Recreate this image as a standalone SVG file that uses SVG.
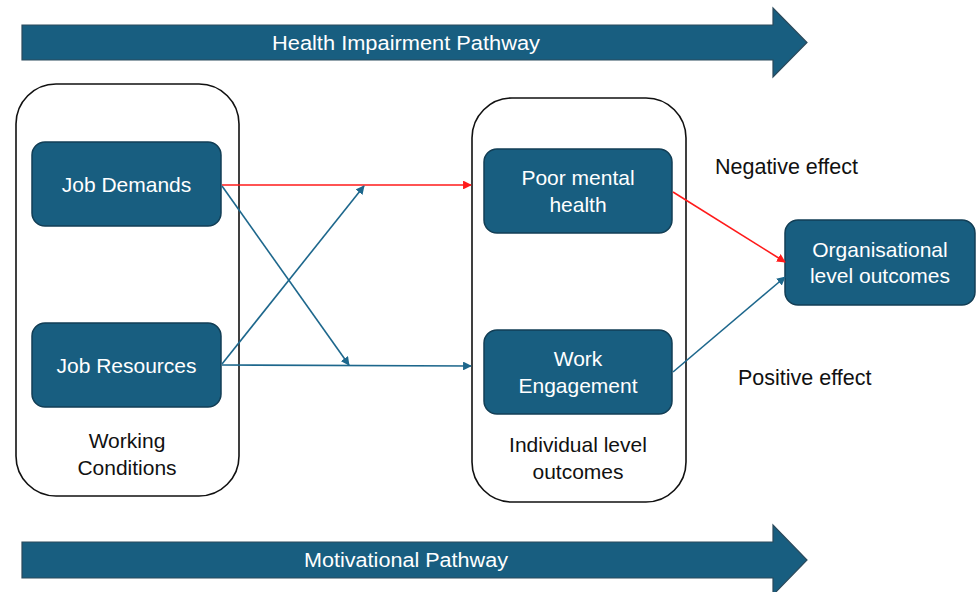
<svg xmlns="http://www.w3.org/2000/svg" width="977" height="592" viewBox="0 0 977 592">
  <style>
    .band { fill: #185e80; stroke: #2b4a5c; stroke-width: 1.2; }
    .band-label { font-family: "Liberation Sans", Arial, sans-serif; font-size: 20px; fill: #ffffff; text-anchor: middle; }
    .group { fill: #ffffff; stroke: #111111; stroke-width: 1.6; }
    .node { fill: #185e80; stroke: #123e55; stroke-width: 1.5; }
    .node-label { font-family: "Liberation Sans", Arial, sans-serif; font-size: 21px; fill: #ffffff; text-anchor: middle; }
    .caption { font-family: "Liberation Sans", Arial, sans-serif; font-size: 21px; fill: #111111; text-anchor: middle; }
    .note { font-family: "Liberation Sans", Arial, sans-serif; font-size: 21.5px; fill: #111111; }
    .link-red { stroke: #ff1a1a; stroke-width: 1.6; fill: none; marker-end: url(#head-red); }
    .link-blue { stroke: #1d678c; stroke-width: 1.6; fill: none; marker-end: url(#head-blue); }
  </style>
  <defs>
    <marker id="head-red" viewBox="0 0 10 10" refX="9" refY="5" markerWidth="5.5" markerHeight="5.5" orient="auto" markerUnits="strokeWidth">
      <path d="M0,0 L10,5 L0,10 Z" fill="#ff1a1a"/>
    </marker>
    <marker id="head-blue" viewBox="0 0 10 10" refX="9" refY="5" markerWidth="5.5" markerHeight="5.5" orient="auto" markerUnits="strokeWidth">
      <path d="M0,0 L10,5 L0,10 Z" fill="#1d678c"/>
    </marker>
  </defs>

  <rect width="977" height="592" fill="#ffffff"/>

  <!-- Pathway bands -->
  <g id="health-impairment-pathway">
    <path class="band" d="M22,25 H773 V8 L807,42.5 L773,77 V60 H22 Z"/>
    <text class="band-label" x="406" y="49.5" textLength="268" lengthAdjust="spacingAndGlyphs">Health Impairment Pathway</text>
  </g>
  <g id="motivational-pathway">
    <path class="band" d="M22,542 H773 V525 L807,560 L773,595 V578 H22 Z"/>
    <text class="band-label" x="406" y="567" textLength="204" lengthAdjust="spacingAndGlyphs">Motivational Pathway</text>
  </g>

  <!-- Containers -->
  <g id="working-conditions">
    <rect class="group" x="16" y="84" width="223" height="412" rx="40" ry="40"/>
    <text class="caption" x="127" y="448">Working</text>
    <text class="caption" x="127" y="475">Conditions</text>
  </g>
  <g id="individual-outcomes">
    <rect class="group" x="472" y="98" width="214" height="404" rx="40" ry="40"/>
    <text class="caption" x="578" y="452">Individual level</text>
    <text class="caption" x="578" y="479">outcomes</text>
  </g>

  <!-- Nodes -->
  <g id="job-demands">
    <rect class="node" x="32" y="142" width="189" height="84" rx="13" ry="13"/>
    <text class="node-label" x="126.5" y="192">Job Demands</text>
  </g>
  <g id="job-resources">
    <rect class="node" x="32" y="323" width="189" height="84" rx="13" ry="13"/>
    <text class="node-label" x="126.5" y="373">Job Resources</text>
  </g>
  <g id="poor-mental-health">
    <rect class="node" x="484" y="149" width="188" height="84" rx="13" ry="13"/>
    <text class="node-label" x="578" y="185">Poor mental</text>
    <text class="node-label" x="578" y="212">health</text>
  </g>
  <g id="work-engagement">
    <rect class="node" x="484" y="330" width="188" height="84" rx="13" ry="13"/>
    <text class="node-label" x="578" y="366">Work</text>
    <text class="node-label" x="578" y="393">Engagement</text>
  </g>
  <g id="organisational-outcomes">
    <rect class="node" x="785" y="220" width="190" height="85" rx="13" ry="13"/>
    <text class="node-label" x="880" y="257">Organisational</text>
    <text class="node-label" x="880" y="283">level outcomes</text>
  </g>

  <!-- Effect labels -->
  <text class="note" x="715" y="174">Negative effect</text>
  <text class="note" x="738" y="385">Positive effect</text>

  <!-- Connectors -->
  <g id="connectors">
    <line class="link-red" x1="222" y1="185" x2="471" y2="185"/>
    <line class="link-blue" x1="222" y1="365" x2="471" y2="366"/>
    <line class="link-blue" x1="222" y1="186" x2="349" y2="365"/>
    <line class="link-blue" x1="222" y1="364" x2="364" y2="186"/>
    <line class="link-red" x1="673" y1="192" x2="785" y2="262"/>
    <line class="link-blue" x1="673" y1="372" x2="785" y2="277"/>
  </g>
</svg>
